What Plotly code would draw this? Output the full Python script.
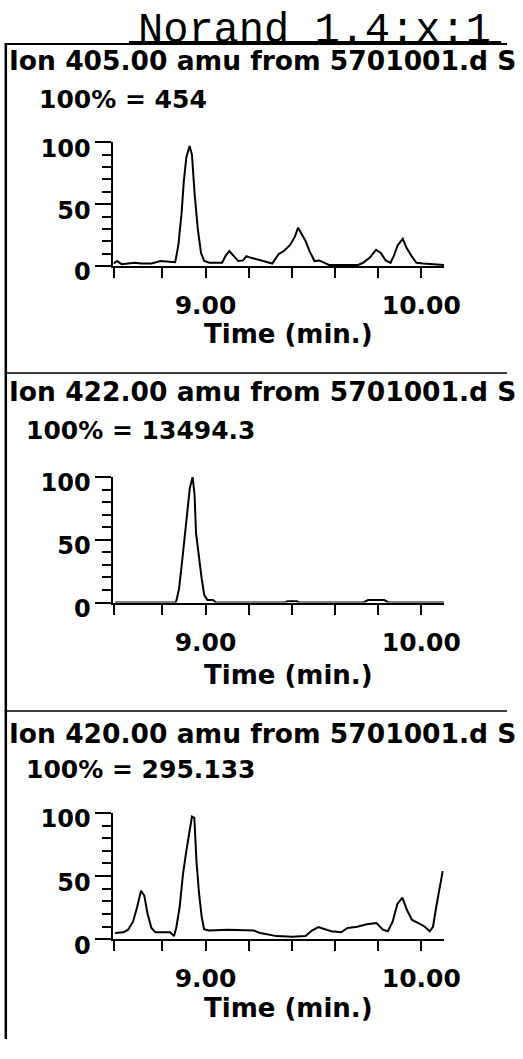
import plotly.graph_objects as go

W, H = 523, 1059

# ---------------- data ----------------
chart_title = "Norand 1.4:x:1"
headers = ["Ion 405.00 amu from 5701001.d S",
           "Ion 422.00 amu from 5701001.d S",
           "Ion 420.00 amu from 5701001.d S"]
scale_labels = ["100% = 454", "100% = 13494.3", "100% = 295.133"]
x_title = "Time (min.)"

x_range = [8.573, 10.105]
x_tickvals = [8.574, 8.8, 9.0, 9.2, 9.4, 9.6, 9.8, 10.0]
x_ticktext = ["", "", "9.00", "", "", "", "", "10.00"]
y_tickvals = [0, 50, 100]
y_ticktext = ["0", "50", "100"]

time_405 = [8.574, 8.590, 8.611, 8.671, 8.701, 8.750, 8.791, 8.821, 8.859, 8.863,
            8.874, 8.889, 8.899, 8.911, 8.926, 8.937, 8.949, 8.964, 8.979, 8.994,
            9.017, 9.077, 9.092, 9.110, 9.129, 9.152, 9.174, 9.189, 9.212, 9.242,
            9.272, 9.309, 9.339, 9.362, 9.392, 9.414, 9.429, 9.444, 9.464, 9.482,
            9.505, 9.527, 9.550, 9.572, 9.632, 9.707, 9.730, 9.760, 9.790, 9.812,
            9.835, 9.857, 9.872, 9.890, 9.914, 9.932, 9.955, 9.977, 10.008, 10.105]
int_405 = [2, 4, 1.5, 2.6, 2, 2, 4, 3.5, 3, 6.5,
           17, 43, 68, 88, 97, 90, 59, 30, 10.5, 4,
           2.6, 2.6, 8, 12, 8.7, 4, 4.5, 8, 6.6, 5.3,
           4, 2, 9.7, 12, 17, 23.7, 31, 26, 20, 12,
           4, 4.5, 2.6, 0.8, 0.8, 0.8, 2.6, 6.6, 13, 10.5,
           4.5, 2.6, 8, 16.6, 22, 14.5, 8, 2.6, 2, 0.8]

time_422 = [8.581, 8.862, 8.867, 8.877, 8.889, 8.901, 8.915, 8.927, 8.940, 8.949,
            8.956, 8.970, 8.982, 8.994, 9.009, 9.034, 9.049, 9.370, 9.379, 9.423,
            9.433, 9.730, 9.753, 9.828, 9.850, 10.105]
int_422 = [0, 0, 3, 11, 29, 50, 70, 91, 100, 86,
           55, 34, 19, 6, 2, 2, 0, 0, 1, 1,
           0, 0, 2, 2, 0, 0]

time_420 = [8.581, 8.619, 8.641, 8.664, 8.683, 8.701, 8.716, 8.731, 8.749, 8.768,
            8.806, 8.836, 8.854, 8.865, 8.880, 8.895, 8.910, 8.925, 8.937, 8.948,
            8.958, 8.970, 8.982, 8.993, 9.015, 9.105, 9.224, 9.254, 9.284, 9.329,
            9.404, 9.463, 9.493, 9.523, 9.553, 9.583, 9.628, 9.658, 9.703, 9.747,
            9.792, 9.822, 9.845, 9.867, 9.889, 9.912, 9.934, 9.957, 9.987, 10.016,
            10.039, 10.054, 10.069, 10.084, 10.099]
int_420 = [5, 5.6, 7.7, 14, 25.6, 38.5, 34.6, 20.5, 9, 5.6,
           5.6, 5.6, 2.6, 10, 25.6, 51, 69, 85, 97, 96,
           61.5, 36, 18, 8, 7, 7.7, 7, 5, 3.8, 2.6,
           2, 2.6, 7, 9.7, 8, 6.4, 5.6, 9, 10, 12,
           13, 7.7, 6.4, 14, 28, 33, 23, 15.4, 12.8, 10,
           6.4, 10, 25.6, 41, 54]

series = [(time_405, int_405), (time_422, int_422), (time_420, int_420)]

# ---------------- layout geometry (pixels) ----------------
def px(x):
    return x / W

def py(y):
    return 1 - y / H

x_dom_px = (117, 458)
y_dom_px = [(265, 138), (610.7, 481.7), (956.7, 826.7)]   # (zero, hundred)
header_y = [53.5, 393.5, 745.5]
scale_xy = [(40, 93.5), (27, 434), (27, 782)]
xtitle_y = [335, 685, 1027]

BOLD = dict(family="DejaVu Sans", weight="bold", color="black")

fig = go.Figure()
layout = dict(
    width=W, height=H,
    margin=dict(l=0, r=0, t=0, b=0),
    paper_bgcolor="white", plot_bgcolor="white",
    showlegend=False,
)

annotations = []
for i, (t, v) in enumerate(series):
    sfx = "" if i == 0 else str(i + 1)
    fig.add_trace(go.Scatter(x=t, y=v, mode="lines",
                             line=dict(color="black", width=2),
                             xaxis="x" + sfx, yaxis="y" + sfx,
                             hoverinfo="skip"))
    z, h = y_dom_px[i]
    layout["xaxis" + sfx] = dict(
        domain=[px(x_dom_px[0]), px(x_dom_px[1])], range=x_range,
        anchor="y" + sfx, showgrid=False, zeroline=False,
        showline=True, linecolor="black", linewidth=2,
        tickmode="array", tickvals=x_tickvals, ticktext=x_ticktext,
        ticks="outside", ticklen=10, tickwidth=2, tickcolor="black",
        tickfont=dict(size=25, **BOLD), ticklabelstandoff=6,
    )
    layout["yaxis" + sfx] = dict(
        domain=[py(z), py(h)], range=[0, 100],
        anchor="x" + sfx, showgrid=False, zeroline=False,
        showline=True, linecolor="black", linewidth=2,
        tickmode="array", tickvals=y_tickvals, ticktext=y_ticktext,
        ticks="outside", ticklen=16, tickwidth=2, tickcolor="black",
        tickfont=dict(size=24, **BOLD), ticklabelshift=6,
        minor=dict(dtick=10, tick0=0, ticks="outside", ticklen=9,
                   tickwidth=2, tickcolor="black", showgrid=False),
    )
    annotations.append(dict(text=headers[i], x=px(9), y=py(header_y[i]),
                            xref="paper", yref="paper", xanchor="left",
                            yanchor="middle", showarrow=False,
                            borderpad=0, borderwidth=0,
                            font=dict(size=26.5, **BOLD)))
    sx, sy = scale_xy[i]
    annotations.append(dict(text=scale_labels[i], x=px(sx), y=py(sy),
                            xref="paper", yref="paper", xanchor="left",
                            yanchor="middle", showarrow=False,
                            borderpad=0, borderwidth=0,
                            font=dict(size=25, **BOLD)))
    annotations.append(dict(text=x_title, x=px(298), y=py(xtitle_y[i]),
                            xref="paper", yref="paper", xanchor="center",
                            yanchor="middle", showarrow=False,
                            borderpad=0, borderwidth=0,
                            font=dict(size=26, **BOLD)))

# title: box trimmed to the glyph area (no descenders in the text)
annotations.append(dict(text=chart_title, x=px(324), y=py(37),
                        xref="paper", yref="paper", xanchor="center",
                        yanchor="bottom", valign="top", height=37,
                        showarrow=False, borderpad=0, borderwidth=0,
                        font=dict(family="Liberation Mono", size=42, color="black")))
layout["annotations"] = annotations

line = dict(color="black", width=2)
layout["shapes"] = [
    dict(type="line", xref="paper", yref="paper", x0=px(6), x1=px(6),
         y0=py(36), y1=py(1059), line=dict(color="black", width=2.5)),
    dict(type="line", xref="paper", yref="paper", x0=px(5), x1=px(523),
         y0=py(37), y1=py(37), line=line),
    dict(type="line", xref="paper", yref="paper", x0=px(133), x1=px(517),
         y0=py(35.5), y1=py(35.5), line=dict(color="black", width=3)),
    dict(type="line", xref="paper", yref="paper", x0=px(5), x1=px(523),
         y0=py(375), y1=py(375), line=dict(color="black", width=1.5)),
    dict(type="line", xref="paper", yref="paper", x0=px(5), x1=px(523),
         y0=py(722), y1=py(722), line=dict(color="black", width=1.5)),
]

fig.update_layout(**layout)
# remove the browser's default 8px body margin so the figure fills the window
fig.write_html("out.html", config=dict(displayModeBar=False),
               post_script="document.body.style.margin='0';"
                           "document.body.style.overflow='hidden';")
